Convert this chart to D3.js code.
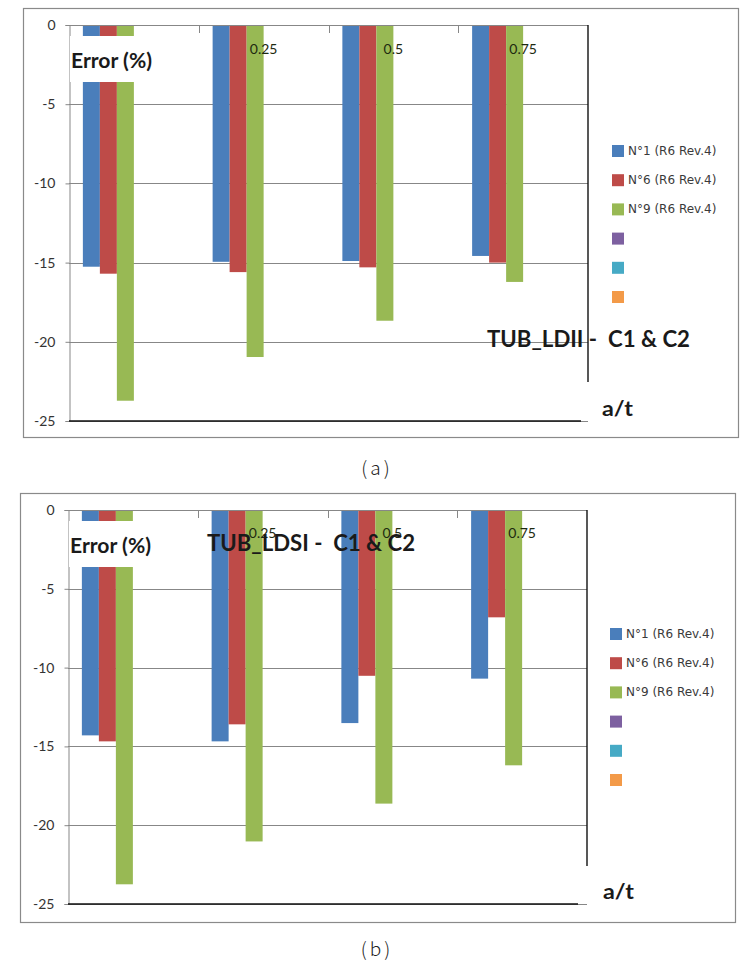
<!DOCTYPE html>
<html>
<head>
<meta charset="utf-8">
<script src="https://cdn.jsdelivr.net/npm/d3@7/dist/d3.min.js"></script>
<style>
  html, body { margin: 0; padding: 0; background: #fff; }
  svg { display: block; }
</style>
</head>
<body>
<svg id="chart" width="751" height="965"></svg>
<script>
// ---------------- DATA ----------------
const categories = ["0", "0.25", "0.5", "0.75"];
const seriesNames = ["N°1 (R6 Rev.4)", "N°6 (R6 Rev.4)", "N°9 (R6 Rev.4)", "", "", ""];
const seriesColors = ["#4A7EBB", "#BE4B48", "#98B954", "#7D60A0", "#46AAC5", "#F39A48"];
const yTicks = [0, -5, -10, -15, -20, -25];

// (a) TUB_LDII - C1 & C2
const ldiiN1 = [-15.26, -14.95, -14.9, -14.58];
const ldiiN6 = [-15.7, -15.6, -15.3, -15.0];
const ldiiN9 = [-23.72, -20.96, -18.67, -16.22];
// (b) TUB_LDSI - C1 & C2
const ldsiN1 = [-14.3, -14.68, -13.52, -10.7];
const ldsiN6 = [-14.68, -13.6, -10.52, -6.81];
const ldsiN9 = [-23.75, -21.03, -18.63, -16.2];

const titleA = "TUB_LDII -  C1 & C2";
const titleB = "TUB_LDSI -  C1 & C2";
const yTitle = "Error (%)";
const xTitle = "a/t";

// ---------------- DRAW ----------------
const svg = d3.select("#chart");
const FONT = "Lato, 'Open Sans', sans-serif";

function drawChart(cfg) {
  const g = svg.append("g");
  const values = [cfg.s1, cfg.s2, cfg.s3, null, null, null];

  // outer frame
  g.append("rect")
    .attr("x", cfg.frame[0] + 0.5).attr("y", cfg.frame[1] + 0.5)
    .attr("width", cfg.frame[2]).attr("height", cfg.frame[3])
    .attr("fill", "#fff").attr("stroke", "#8a8a8a").attr("stroke-width", 1.2);

  const y = d3.scaleLinear().domain([0, -25]).range([cfg.top, cfg.bottom]);
  const x0 = d3.scaleBand().domain(categories).range([cfg.left, cfg.right]).padding(0);
  const x1 = d3.scaleBand().domain(d3.range(6)).range([0, x0.bandwidth()])
    .paddingInner(0).paddingOuter(0.816);

  // gridlines
  g.append("g").selectAll("line").data(yTicks.filter(t => t !== 0)).join("line")
    .attr("x1", cfg.left).attr("x2", cfg.right)
    .attr("y1", d => Math.round(y(d)) + 0.5).attr("y2", d => Math.round(y(d)) + 0.5)
    .attr("stroke", "#878787").attr("stroke-width", 1);

  // bars
  const barData = [];
  categories.forEach((c, ci) => {
    values.forEach((arr, si) => {
      if (arr) barData.push({ c, si, v: arr[ci] });
    });
  });
  g.append("g").selectAll("rect").data(barData).join("rect")
    .attr("x", d => x0(d.c) + x1(d.si))
    .attr("width", x1.bandwidth())
    .attr("y", y(0))
    .attr("height", d => y(d.v) - y(0))
    .attr("fill", d => seriesColors[d.si]);

  // y axis
  const yAxis = d3.axisLeft(y).tickValues(yTicks).tickSize(4).tickPadding(10)
    .tickFormat(d => d === 0 ? "0" : "-" + Math.abs(d));
  const ya = g.append("g").attr("transform", `translate(${cfg.left + 0.5},0)`).call(yAxis);
  ya.select(".domain").attr("stroke", "#878787");
  ya.selectAll(".tick line").attr("stroke", "#878787");
  ya.selectAll(".tick text")
    .attr("font-family", FONT).attr("font-size", 14).attr("fill", "#333");

  // top axis line (y = 0) with downward ticks at category boundaries
  g.append("line")
    .attr("x1", cfg.left).attr("x2", cfg.right)
    .attr("y1", y(0) + 0.5).attr("y2", y(0) + 0.5)
    .attr("stroke", "#878787");
  g.append("g").selectAll("line").data(categories.slice(1)).join("line")
    .attr("x1", d => Math.round(x0(d)) + 0.5).attr("x2", d => Math.round(x0(d)) + 0.5)
    .attr("y1", y(0)).attr("y2", y(0) + 8)
    .attr("stroke", "#878787");

  // plot border pieces (black)
  g.append("line")
    .attr("x1", cfg.left).attr("x2", cfg.bottomLineEnd)
    .attr("y1", y(-25)).attr("y2", y(-25))
    .attr("stroke", "#111").attr("stroke-width", 1.6);
  g.append("line")
    .attr("x1", cfg.right).attr("x2", cfg.right)
    .attr("y1", y(0)).attr("y2", cfg.rightLineEnd)
    .attr("stroke", "#111").attr("stroke-width", 1.4);

  // Error (%) white box
  g.append("rect")
    .attr("x", cfg.left + 1).attr("y", y(0) + 11)
    .attr("width", 88).attr("height", 46).attr("fill", "#fff");
  g.append("text")
    .attr("x", cfg.left + 2).attr("y", y(0) + 34)
    .attr("dominant-baseline", "central")
    .attr("font-family", FONT).attr("font-weight", 700).attr("font-size", 21)
    .attr("fill", "#1a1a1a")
    .attr("textLength", 81).attr("lengthAdjust", "spacingAndGlyphs")
    .text(yTitle);

  // category labels
  g.append("g").selectAll("text").data(categories.slice(1)).join("text")
    .attr("x", d => x0(d) + x0.bandwidth() / 2)
    .attr("y", y(0) + cfg.catDy)
    .attr("text-anchor", "middle").attr("dominant-baseline", "central")
    .attr("font-family", FONT).attr("font-size", 14).attr("fill", "#1d2a10")
    .text(d => d);

  // chart title
  g.append("text")
    .attr("x", cfg.titleX).attr("y", cfg.titleY)
    .attr("dominant-baseline", "central")
    .attr("font-family", FONT).attr("font-weight", 700).attr("font-size", 23)
    .attr("fill", "#1a1a1a")
    .attr("textLength", cfg.titleW).attr("lengthAdjust", "spacingAndGlyphs")
    .style("white-space", "pre")
    .text(cfg.title);

  // x title
  g.append("text")
    .attr("x", cfg.xTitleX).attr("y", cfg.xTitleY)
    .attr("dominant-baseline", "central")
    .attr("font-family", FONT).attr("font-weight", 700).attr("font-size", 21)
    .attr("fill", "#1a1a1a")
    .attr("textLength", 31).attr("lengthAdjust", "spacingAndGlyphs")
    .text(xTitle);

  // legend
  const lg = g.append("g").selectAll("g").data(seriesNames).join("g")
    .attr("transform", (d, i) => `translate(${cfg.legX},${cfg.legY + i * 29.2})`);
  lg.append("rect").attr("x", 0).attr("y", -6).attr("width", 12).attr("height", 12)
    .attr("fill", (d, i) => seriesColors[i]);
  lg.append("text").attr("x", 16).attr("y", 0)
    .attr("dominant-baseline", "central")
    .attr("font-family", "'DejaVu Sans', sans-serif").attr("font-size", 12)
    .attr("fill", "#3a3a3a")
    .text(d => d);

  // caption
  svg.append("text")
    .attr("x", cfg.capX).attr("y", cfg.capY)
    .attr("text-anchor", "middle").attr("dominant-baseline", "central")
    .attr("font-family", "'Noto Sans CJK KR', 'DejaVu Sans', sans-serif")
    .attr("font-weight", 300).attr("font-size", 19)
    .attr("letter-spacing", 3)
    .attr("fill", "#222")
    .text(cfg.caption);
}

drawChart({
  s1: ldiiN1, s2: ldiiN6, s3: ldiiN9,
  frame: [23, 8, 715, 429],
  left: 69, right: 588, top: 25, bottom: 421,
  bottomLineEnd: 581, rightLineEnd: 382,
  catDy: 23,
  title: titleA, titleX: 487, titleY: 338, titleW: 203,
  xTitleX: 602, xTitleY: 407,
  legX: 612, legY: 151,
  caption: "(a)", capX: 377, capY: 466
});

drawChart({
  s1: ldsiN1, s2: ldsiN6, s3: ldsiN9,
  frame: [20, 493, 715, 429],
  left: 68, right: 587, top: 510, bottom: 904,
  bottomLineEnd: 578, rightLineEnd: 866,
  catDy: 22,
  title: titleB, titleX: 207, titleY: 542, titleW: 208,
  xTitleX: 603, xTitleY: 890,
  legX: 610, legY: 634,
  caption: "(b)", capX: 377, capY: 947
});
</script>
</body>
</html>
